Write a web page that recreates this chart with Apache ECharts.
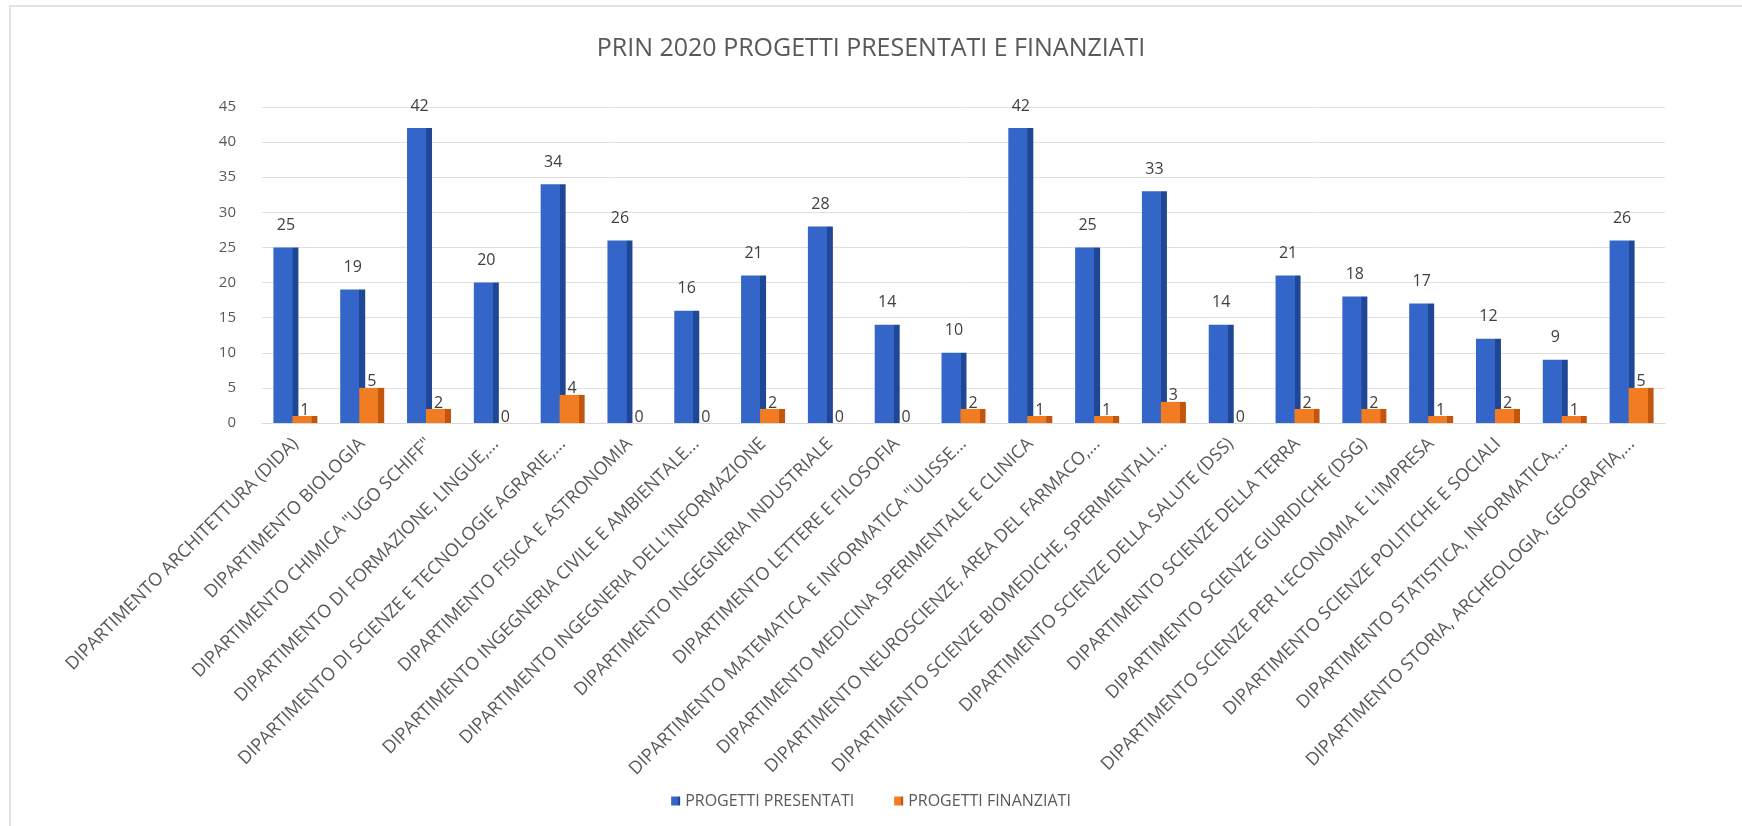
<!DOCTYPE html>
<html>
<head>
<meta charset="utf-8">
<script src="https://cdn.jsdelivr.net/npm/echarts@6/dist/echarts.min.js"></script>
<style>
  html, body { margin: 0; padding: 0; background: #fff; }
  #frame { position: absolute; left: 9px; top: 5px; width: 1733px; height: 821px; border-top: 2px solid #e3e3e3; border-left: 2px solid #e3e3e3; box-sizing: border-box; }
  #chart { position: absolute; left: 0; top: 0; width: 1742px; height: 826px; }
</style>
</head>
<body>
<div id="frame"></div>
<div id="chart"></div>
<script>
// dipartimenti
const departments = [
  'DIPARTIMENTO ARCHITETTURA (DIDA)',
  'DIPARTIMENTO BIOLOGIA',
  'DIPARTIMENTO CHIMICA "UGO SCHIFF"',
  'DIPARTIMENTO DI FORMAZIONE, LINGUE,...',
  'DIPARTIMENTO DI SCIENZE E TECNOLOGIE AGRARIE,...',
  'DIPARTIMENTO FISICA E ASTRONOMIA',
  'DIPARTIMENTO INGEGNERIA CIVILE E AMBIENTALE...',
  "DIPARTIMENTO INGEGNERIA DELL'INFORMAZIONE",
  'DIPARTIMENTO INGEGNERIA INDUSTRIALE',
  'DIPARTIMENTO LETTERE E FILOSOFIA',
  'DIPARTIMENTO MATEMATICA E INFORMATICA "ULISSE...',
  'DIPARTIMENTO MEDICINA SPERIMENTALE E CLINICA',
  'DIPARTIMENTO NEUROSCIENZE, AREA DEL FARMACO,...',
  'DIPARTIMENTO SCIENZE BIOMEDICHE, SPERIMENTALI...',
  'DIPARTIMENTO SCIENZE DELLA SALUTE (DSS)',
  'DIPARTIMENTO SCIENZE DELLA TERRA',
  'DIPARTIMENTO SCIENZE GIURIDICHE (DSG)',
  "DIPARTIMENTO SCIENZE PER L'ECONOMIA E L'IMPRESA",
  'DIPARTIMENTO SCIENZE POLITICHE E SOCIALI',
  'DIPARTIMENTO STATISTICA, INFORMATICA,...',
  'DIPARTIMENTO STORIA, ARCHEOLOGIA, GEOGRAFIA,...'
]
const presentati = [25, 19, 42, 20, 34, 26, 16, 21, 28, 14, 10, 42, 25, 33, 14, 21, 18, 17, 12, 9, 26]
const finanziati = [1, 5, 2, 0, 4, 0, 0, 2, 0, 0, 2, 1, 1, 3, 0, 2, 2, 1, 2, 1, 5]

const font = 'Open Sans'

// finto 3D: faccia frontale + lato scuro
function face(front, side) {
  return new echarts.graphic.LinearGradient(0, 0, 1, 0, [
    { offset: 0, color: front },
    { offset: 0.76, color: front },
    { offset: 0.77, color: side },
    { offset: 1, color: side }
  ])
}

const myChart = echarts.init(document.getElementById('chart'))
const option = {
  backgroundColor: 'transparent',
  textStyle: { fontFamily: font },
  title: {
    text: 'PRIN 2020 PROGETTI PRESENTATI E FINANZIATI',
    left: 'center',
    top: 31,
    textStyle: { fontFamily: font, fontSize: 25, fontWeight: 'normal', color: '#595959' }
  },
  legend: {
    top: 788,
    left: 'center',
    icon: 'rect',
    itemWidth: 9,
    itemHeight: 9,
    itemGap: 40,
    textStyle: { fontFamily: font, fontSize: 16, color: '#595959' },
    data: ['PROGETTI PRESENTATI', 'PROGETTI FINANZIATI']
  },
  grid: { left: 262, right: 77, top: 107, bottom: 403 },
  xAxis: {
    type: 'category',
    data: departments,
    axisLine: { show: true, lineStyle: { color: '#d9d9d9' } },
    axisTick: { show: false },
    axisLabel: {
      interval: 0,
      rotate: 45,
      margin: 18,
      fontSize: 18,
      color: '#595959',
      fontFamily: font
    }
  },
  yAxis: {
    type: 'value',
    min: 0,
    max: 45,
    interval: 5,
    axisLine: { show: false },
    axisTick: { show: false },
    axisLabel: { fontSize: 15, color: '#595959', margin: 26, fontFamily: font },
    splitLine: { lineStyle: { color: '#e0e0e0', width: 1 } }
  },
  series: [
    {
      name: 'PROGETTI PRESENTATI',
      type: 'bar',
      data: presentati,
      barWidth: 25,
      barGap: '-24%',
      itemStyle: { color: face('#3466c9', '#1f4796') },
      label: {
        show: true,
        position: 'top',
        distance: 14,
        fontSize: 16,
        color: '#404040',
        fontFamily: font
      }
    },
    {
      name: 'PROGETTI FINANZIATI',
      type: 'bar',
      data: finanziati,
      barWidth: 25,
      itemStyle: { color: face('#f27c22', '#c2560f') },
      label: {
        show: true,
        position: 'top',
        distance: -2,
        fontSize: 16,
        color: '#404040',
        fontFamily: font
      }
    }
  ]
}
option && myChart.setOption(option)
</script>
</body>
</html>
